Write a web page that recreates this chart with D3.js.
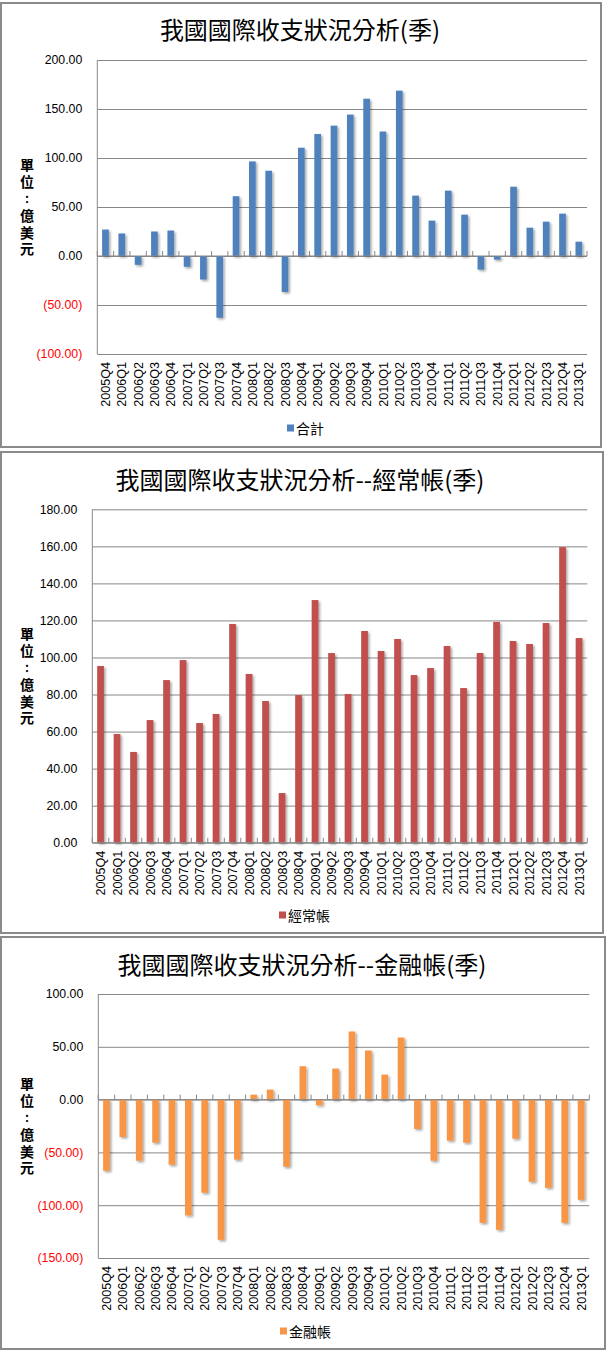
<!DOCTYPE html>
<html>
<head>
<meta charset="utf-8">
<script src="https://cdn.jsdelivr.net/npm/d3@7"></script>
<style>
  html, body { margin: 0; padding: 0; background: #ffffff; }
  svg { display: block; }
  .unitv { writing-mode: vertical-rl; text-orientation: upright; }
</style>
</head>
<body>
<div id="chart"></div>
<script>
// ---------------- data ----------------
const categories = [
  "2005Q4","2006Q1","2006Q2","2006Q3","2006Q4","2007Q1","2007Q2","2007Q3","2007Q4",
  "2008Q1","2008Q2","2008Q3","2008Q4","2009Q1","2009Q2","2009Q3","2009Q4",
  "2010Q1","2010Q2","2010Q3","2010Q4","2011Q1","2011Q2","2011Q3","2011Q4",
  "2012Q1","2012Q2","2012Q3","2012Q4","2013Q1"
];
const totalValues = [
  27.0, 23.0, -9.0, 25.0, 26.0, -11.0, -24.0, -63.0, 61.0,
  96.5, 87.0, -36.7, 110.5, 124.5, 133.0, 144.3, 160.5,
  127.0, 168.7, 61.6, 36.1, 66.7, 42.2, -13.9, -3.7,
  70.7, 28.9, 35.0, 43.2, 14.6
];
const currentAccountValues = [
  95.4, 58.7, 49.0, 66.2, 87.8, 98.6, 64.6, 69.5, 118.1,
  91.1, 76.5, 26.8, 79.7, 131.0, 102.4, 80.3, 114.3,
  103.5, 110.0, 90.5, 94.3, 106.2, 83.5, 102.4, 119.2,
  108.9, 107.3, 118.6, 159.6, 110.5
];
const financialAccountValues = [
  -67.4, -35.4, -57.9, -40.8, -61.7, -109.7, -88.2, -132.8, -56.9,
  4.7, 9.5, -63.6, 31.6, -5.4, 29.4, 64.5, 46.5,
  23.7, 58.8, -27.8, -57.9, -38.9, -40.8, -116.7, -123.3,
  -37.0, -77.8, -83.5, -116.7, -94.9
];
const totalTicks = [200, 150, 100, 50, 0, -50, -100];
const currentTicks = [180, 160, 140, 120, 100, 80, 60, 40, 20, 0];
const financialTicks = [100, 50, 0, -50, -100, -150];

const titles = [
  "我國國際收支狀況分析(季)",
  "我國國際收支狀況分析--經常帳(季)",
  "我國國際收支狀況分析--金融帳(季)"
];
const seriesNames = ["合計", "經常帳", "金融帳"];
const unitParts = ["單位", "：", "億美元"];

// ---------------- drawing ----------------
const W = 606, H = 1352;
const svg = d3.select("#chart").append("svg")
  .attr("width", W).attr("height", H)
  .attr("viewBox", `0 0 ${W} ${H}`);

const defs = svg.append("defs");
const flt = defs.append("filter").attr("id", "shadow")
  .attr("x", "-50%").attr("y", "-10%").attr("width", "250%").attr("height", "130%");
flt.append("feDropShadow")
  .attr("dx", 1.6).attr("dy", 1.6).attr("stdDeviation", 1.1)
  .attr("flood-color", "#000").attr("flood-opacity", 0.35);

svg.append("rect").attr("width", W).attr("height", H).attr("fill", "#ffffff");

const GRID = "#878787";
const TICK_FONT = "'Liberation Sans', Arial, sans-serif";
const CJK_FONT = "'Noto Sans CJK TC', 'Noto Sans CJK SC', sans-serif";

function fmt(v) {
  const s = Math.abs(v).toFixed(2);
  return v < 0 ? "(" + s + ")" : s;
}

function drawPanel(cfg) {
  const g = svg.append("g");
  // panel frame
  g.append("rect")
    .attr("x", cfg.box.x).attr("y", cfg.box.y)
    .attr("width", cfg.box.w).attr("height", cfg.box.h)
    .attr("fill", "#ffffff").attr("stroke", "#8a8a8a").attr("stroke-width", 2);

  // title
  g.append("text")
    .attr("x", cfg.titleX).attr("y", cfg.titleY)
    .attr("text-anchor", "middle").attr("dominant-baseline", "central")
    .attr("font-family", CJK_FONT).attr("font-size", 24).attr("fill", "#000")
    .text(cfg.title);

  const x = d3.scaleBand().domain(categories)
    .range([cfg.plot.l, cfg.plot.r]).paddingInner(0).paddingOuter(0);
  const y = d3.scaleLinear().domain(cfg.domain).range([cfg.plot.b, cfg.plot.t]);

  // gridlines + value labels
  const gy = g.append("g").attr("transform", `translate(${cfg.plot.l},0)`)
    .call(d3.axisLeft(y).tickValues(cfg.ticks)
      .tickSize(-(cfg.plot.r - cfg.plot.l)).tickPadding(15).tickFormat(fmt));
  gy.select(".domain").remove();
  gy.selectAll(".tick line").attr("stroke", GRID).attr("stroke-width", 1);
  gy.selectAll(".tick text")
    .attr("font-family", TICK_FONT).attr("font-size", 12.3)
    .attr("fill", d => d < 0 ? "#ff0000" : "#000");

  // value axis line
  g.append("line")
    .attr("x1", cfg.plot.l).attr("x2", cfg.plot.l)
    .attr("y1", cfg.plot.t).attr("y2", cfg.plot.b)
    .attr("stroke", GRID).attr("stroke-width", 1);

  // bars
  const bw = x.bandwidth() / 2.45;
  const data = categories.map((c, i) => ({ c, v: cfg.values[i] }));
  g.append("g").attr("filter", "url(#shadow)")
    .selectAll("rect").data(data).join("rect")
    .attr("x", d => x(d.c) + (x.bandwidth() - bw) / 2)
    .attr("width", bw)
    .attr("y", d => y(Math.max(0, d.v)))
    .attr("height", d => Math.abs(y(d.v) - y(0)))
    .attr("fill", cfg.color);

  // category axis (at zero) with inside tick marks
  const y0 = y(0);
  g.append("line")
    .attr("x1", cfg.plot.l).attr("x2", cfg.plot.r)
    .attr("y1", y0).attr("y2", y0)
    .attr("stroke", GRID).attr("stroke-width", 1);
  const bounds = d3.range(categories.length + 1).map(i => cfg.plot.l + i * x.bandwidth());
  g.append("g").selectAll("line").data(bounds).join("line")
    .attr("x1", d => d).attr("x2", d => d)
    .attr("y1", y0).attr("y2", y0 - 5)
    .attr("stroke", GRID).attr("stroke-width", 1);

  // category labels (rotated) below plot area
  g.append("g").selectAll("text").data(categories).join("text")
    .attr("transform", d => `translate(${x(d) + x.bandwidth() / 2},${cfg.plot.b + 8})rotate(-90)`)
    .attr("text-anchor", "end").attr("dy", "0.36em")
    .attr("font-family", TICK_FONT).attr("font-size", 12.6).attr("fill", "#000")
    .text(d => d);

  // vertical unit label: 單位 / ： / 億美元, stacked in 16.8px cells
  const step = 16.8;
  const cy = (cfg.plot.t + cfg.plot.b) / 2;
  const top = cy - 3 * step;
  const ug = g.append("g").attr("font-family", CJK_FONT).attr("font-weight", "bold").attr("fill", "#000");
  ug.append("text").attr("class", "unitv")
    .attr("x", 27).attr("y", top + 1.4)
    .attr("font-size", 14).attr("letter-spacing", 2.8)
    .text(unitParts[0]);
  ug.append("text")
    .attr("x", 27).attr("y", top + 2.5 * step)
    .attr("text-anchor", "middle").attr("dominant-baseline", "central")
    .attr("font-size", 11.5)
    .text(unitParts[1]);
  ug.append("text").attr("class", "unitv")
    .attr("x", 27).attr("y", top + 3 * step + 1.4)
    .attr("font-size", 14).attr("letter-spacing", 2.8)
    .text(unitParts[2]);

  // legend
  const lg = g.append("g").attr("transform", `translate(${cfg.legendX},${cfg.legendY})`);
  lg.append("rect").attr("x", 0).attr("y", -3.5).attr("width", 7).attr("height", 7)
    .attr("fill", cfg.color);
  lg.append("text").attr("x", 9).attr("y", 0)
    .attr("dominant-baseline", "central")
    .attr("font-family", CJK_FONT).attr("font-size", 14).attr("fill", "#000")
    .text(cfg.name);
}

drawPanel({
  box: { x: 1, y: 3, w: 600, h: 444 },
  plot: { l: 97.3, r: 587, t: 60, b: 354 },
  domain: [-100, 200], ticks: totalTicks, values: totalValues,
  color: "#4f81bd", title: titles[0], titleX: 300, titleY: 28,
  name: seriesNames[0], legendX: 287, legendY: 428
});
drawPanel({
  box: { x: 1, y: 452, w: 602, h: 481 },
  plot: { l: 92.3, r: 587.3, t: 509.3, b: 842.7 },
  domain: [0, 180], ticks: currentTicks, values: currentAccountValues,
  color: "#c0504d", title: titles[1], titleX: 300, titleY: 478,
  name: seriesNames[1], legendX: 279, legendY: 915
});
drawPanel({
  box: { x: 1, y: 937, w: 604, h: 412 },
  plot: { l: 98.3, r: 589.3, t: 994, b: 1258 },
  domain: [-150, 100], ticks: financialTicks, values: financialAccountValues,
  color: "#f79646", title: titles[2], titleX: 302, titleY: 963,
  name: seriesNames[2], legendX: 280, legendY: 1331
});
</script>
</body>
</html>
